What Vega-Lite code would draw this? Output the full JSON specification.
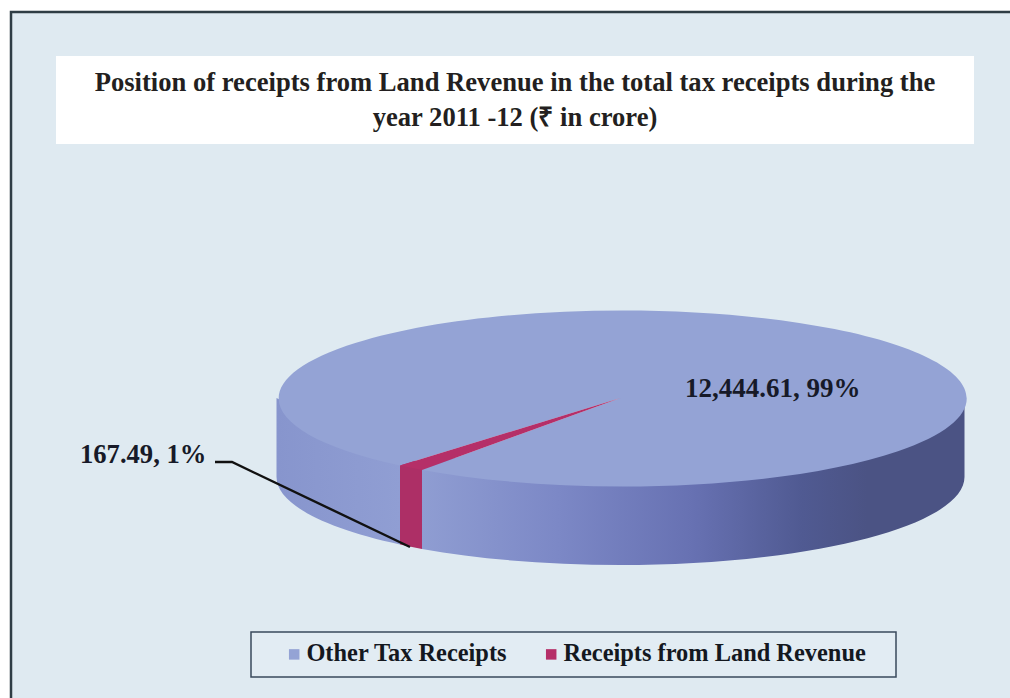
{
  "$schema": "https://vega.github.io/schema/vega-lite/v6.json",
  "width": 1010,
  "height": 698,
  "padding": 0,
  "autosize": "none",
  "background": "#ffffff",
  "config": {"view": {"stroke": null}},
  "title": {
    "text": ["Position of receipts from Land Revenue in the total tax receipts during the", "year 2011 -12 (₹ in crore)"],
    "font": "Liberation Serif", "fontWeight": "bold", "fontSize": 26.6, "lineHeight": 35,
    "color": "#231f20", "anchor": "middle", "baseline": "top", "offset": -69, "dy": 63, "dx": 10, "zindex": 1
  },
  "data": {"values": [
    {"category": "Other Tax Receipts", "value": 12444.61, "percent": 99, "label": "12,444.61, 99%"},
    {"category": "Receipts from Land Revenue", "value": 167.49, "percent": 1, "label": "167.49, 1%"}
  ]},
  "layer": [
    {
      "data": {"values": [{"panel": "page"}]},
      "mark": {"type": "rect", "fill": "#dfeaf1", "stroke": "#2f3d45", "strokeWidth": 2.5},
      "encoding": {"x": {"value": 11}, "x2": {"value": 1014}, "y": {"value": 12}, "y2": {"value": 702}}
    },
    {
      "data": {"values": [{"panel": "title box"}]},
      "mark": {"type": "rect", "fill": "#ffffff"},
      "encoding": {"x": {"value": 56}, "x2": {"value": 974}, "y": {"value": 56}, "y2": {"value": 144}}
    },
    {
      "data": {"values": [{"panel": "legend box"}]},
      "mark": {"type": "rect", "fill": "#e2ecf3", "stroke": "#3a4a5c", "strokeWidth": 1.5},
      "encoding": {"x": {"value": 251}, "x2": {"value": 896}, "y": {"value": 632}, "y2": {"value": 677}}
    },
    {
      "transform": [{"filter": "datum.percent == 99"}],
      "mark": {"type": "point", "filled": true, "opacity": 1, "strokeWidth": 0,
        "shape": "M-344,0 L-344,79 A344,88 0 0 0 -220.5,146.5 L-220.5,60 Z",
        "fill": {"gradient": "linear", "x1": 0, "y1": 0, "x2": 1, "y2": 0, "stops": [{"offset": 0, "color": "#8795cd"}, {"offset": 1, "color": "#909ed3"}]}},
      "encoding": {"x": {"value": 620.5}, "y": {"value": 398}, "size": {"value": 4}}
    },
    {
      "transform": [{"filter": "datum.percent == 99"}],
      "mark": {"type": "point", "filled": true, "opacity": 1, "strokeWidth": 0,
        "shape": "M-198.5,64 L344,0 L344,79 A344,88 0 0 1 -198.5,150.9 Z",
        "fill": {"gradient": "linear", "x1": 0, "y1": 0, "x2": 1, "y2": 0, "stops": [{"offset": 0, "color": "#8f9dd2"}, {"offset": 0.25, "color": "#7c88c6"}, {"offset": 0.5, "color": "#6771b2"}, {"offset": 0.7, "color": "#505a92"}, {"offset": 0.82, "color": "#4b5384"}, {"offset": 1, "color": "#4b5384"}]}},
      "encoding": {"x": {"value": 620.5}, "y": {"value": 398}, "size": {"value": 4}}
    },
    {
      "transform": [{"filter": "datum.percent == 1"}],
      "mark": {"type": "point", "filled": true, "opacity": 1, "strokeWidth": 0, "fill": "#ad2f66",
        "shape": "M-220.5,60 L-198.5,64 L-198.5,150.9 A344,88 0 0 1 -220.5,146.5 Z"},
      "encoding": {"x": {"value": 620.5}, "y": {"value": 398}, "size": {"value": 4}}
    },
    {
      "mark": {"type": "point", "filled": true, "opacity": 1, "strokeWidth": 0},
      "encoding": {
        "x": {"value": 620.5}, "y": {"value": 398}, "size": {"value": 4},
        "shape": {"field": "label", "type": "nominal", "legend": null,
          "scale": {"domain": ["12,444.61, 99%", "167.49, 1%"],
            "range": ["M0,0 L-198.5,71.9 A344,88 0 1 0 -220.5,67.5 Z", "M0,0 L-220.5,67.5 A344,88 0 0 0 -198.5,71.9 Z"]}},
        "fill": {"field": "category", "type": "nominal",
          "scale": {"domain": ["Other Tax Receipts", "Receipts from Land Revenue"], "range": ["#94a3d5", "#b52f68"]},
          "legend": {"title": null, "orient": "none", "legendX": 282, "legendY": 642, "direction": "horizontal",
            "symbolType": "square", "symbolSize": 110, "labelFont": "Liberation Serif", "labelFontWeight": "bold",
            "labelFontSize": 24.4, "labelColor": "#14181f", "labelOffset": 0, "columnPadding": 31, "labelLimit": 400, "padding": 0, "zindex": 1}}
      }
    },
    {
      "transform": [{"filter": "datum.percent == 1"}],
      "mark": {"type": "point", "filled": false, "opacity": 1, "stroke": "#111111", "strokeWidth": 2.4,
        "shape": "M-405.5,64 L-388.5,64 L-210.5,149"},
      "encoding": {"x": {"value": 620.5}, "y": {"value": 398}, "size": {"value": 4}}
    },
    {
      "transform": [{"filter": "datum.percent == 99"}],
      "mark": {"type": "text", "font": "Liberation Serif", "fontWeight": "bold", "fontSize": 27, "color": "#171a28", "align": "left", "baseline": "middle"},
      "encoding": {"text": {"field": "label"}, "x": {"value": 685}, "y": {"value": 389}}
    },
    {
      "transform": [{"filter": "datum.percent == 1"}],
      "mark": {"type": "text", "font": "Liberation Serif", "fontWeight": "bold", "fontSize": 26.6, "color": "#171a28", "align": "left", "baseline": "middle"},
      "encoding": {"text": {"field": "label"}, "x": {"value": 80}, "y": {"value": 455}}
    }
  ]
}
